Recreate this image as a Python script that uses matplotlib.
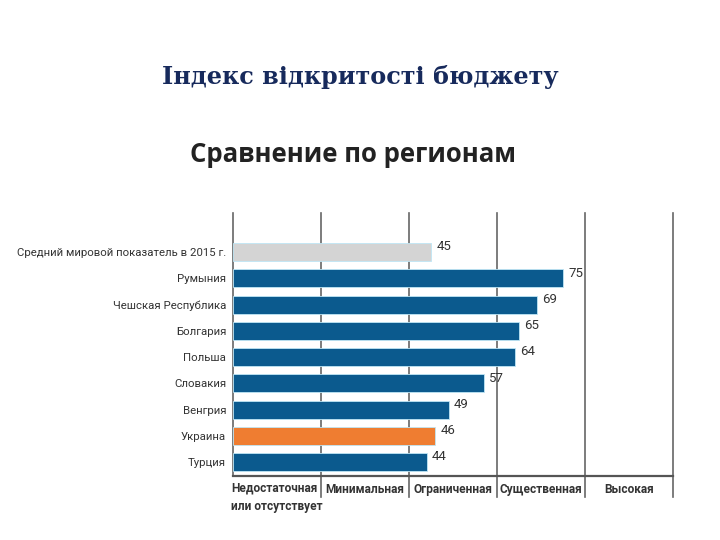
import matplotlib.pyplot as plt

# data
countries = ['Средний мировой показатель в 2015 г.', 'Румыния', 'Чешская Республика',
             'Болгария', 'Польша', 'Словакия', 'Венгрия', 'Украина', 'Турция']
scores = [45, 75, 69, 65, 64, 57, 49, 46, 44]
colors = ['#d4d4d4'] + ['#0b5a8e'] * 6 + ['#ef7d31', '#0b5a8e']
levels = ['Недостаточная\nили отсутствует', 'Минимальная', 'Ограниченная',
          'Существенная', 'Высокая']
bounds = [0, 20, 40, 60, 80, 100]

narrow = ['Roboto', 'DejaVu Sans']

fig = plt.figure(figsize=(7.2, 5.4), dpi=100)
ax = fig.add_axes([233 / 720, 1 - 476 / 540, 440 / 720, 263 / 540])

ypos = list(range(len(countries)))
ax.barh(ypos, scores, height=0.69, color=colors, zorder=3,
        edgecolor='#bfe6f5', linewidth=0.6)
for y, v in zip(ypos, scores):
    ax.text(v + 1.2, y - 0.2, str(v), va='center', ha='left', fontsize=9.5,
            color='#333333', family=narrow)

ax.set_xlim(0, 100)
ax.set_ylim(8.53, -1.49)
ax.set_yticks(ypos)
ax.set_yticklabels(countries, fontsize=8.2, color='#333333', family=narrow)
ax.tick_params(axis='y', length=0, pad=5)
ax.set_xticks([])
for s in ['top', 'right', 'left']:
    ax.spines[s].set_visible(False)
ax.spines['bottom'].set_color('#555555')
ax.spines['bottom'].set_linewidth(1.6)

trans = ax.get_xaxis_transform()
for b in bounds:
    low = 0 if b == 0 else -0.08
    ax.plot([b, b], [low, 1], color='#666666', lw=1.2, transform=trans,
            clip_on=False, zorder=1)

for i, lab in enumerate(levels):
    if i == 0:
        ax.text(bounds[0] - 0.5, -0.022, lab, transform=trans, ha='left', va='top',
                fontsize=8.6, fontweight='bold', color='#333333', family=narrow,
                linespacing=1.5)
    else:
        ax.text((bounds[i] + bounds[i + 1]) / 2, -0.052, lab, transform=trans,
                ha='center', va='center', fontsize=8.6, fontweight='bold',
                color='#333333', family=narrow)

fig.text(360 / 720, 1 - 77 / 540, 'Індекс відкритості бюджету', ha='center', va='center',
         fontsize=17.2, fontweight='bold', color='#172a5c', family='DejaVu Serif')
fig.text(353 / 720, 1 - 155 / 540, 'Сравнение по регионам', ha='center', va='center',
         fontsize=18.5, fontweight='bold', color='#222222', family='Open Sans')

fig.savefig('out.png', dpi=100)
